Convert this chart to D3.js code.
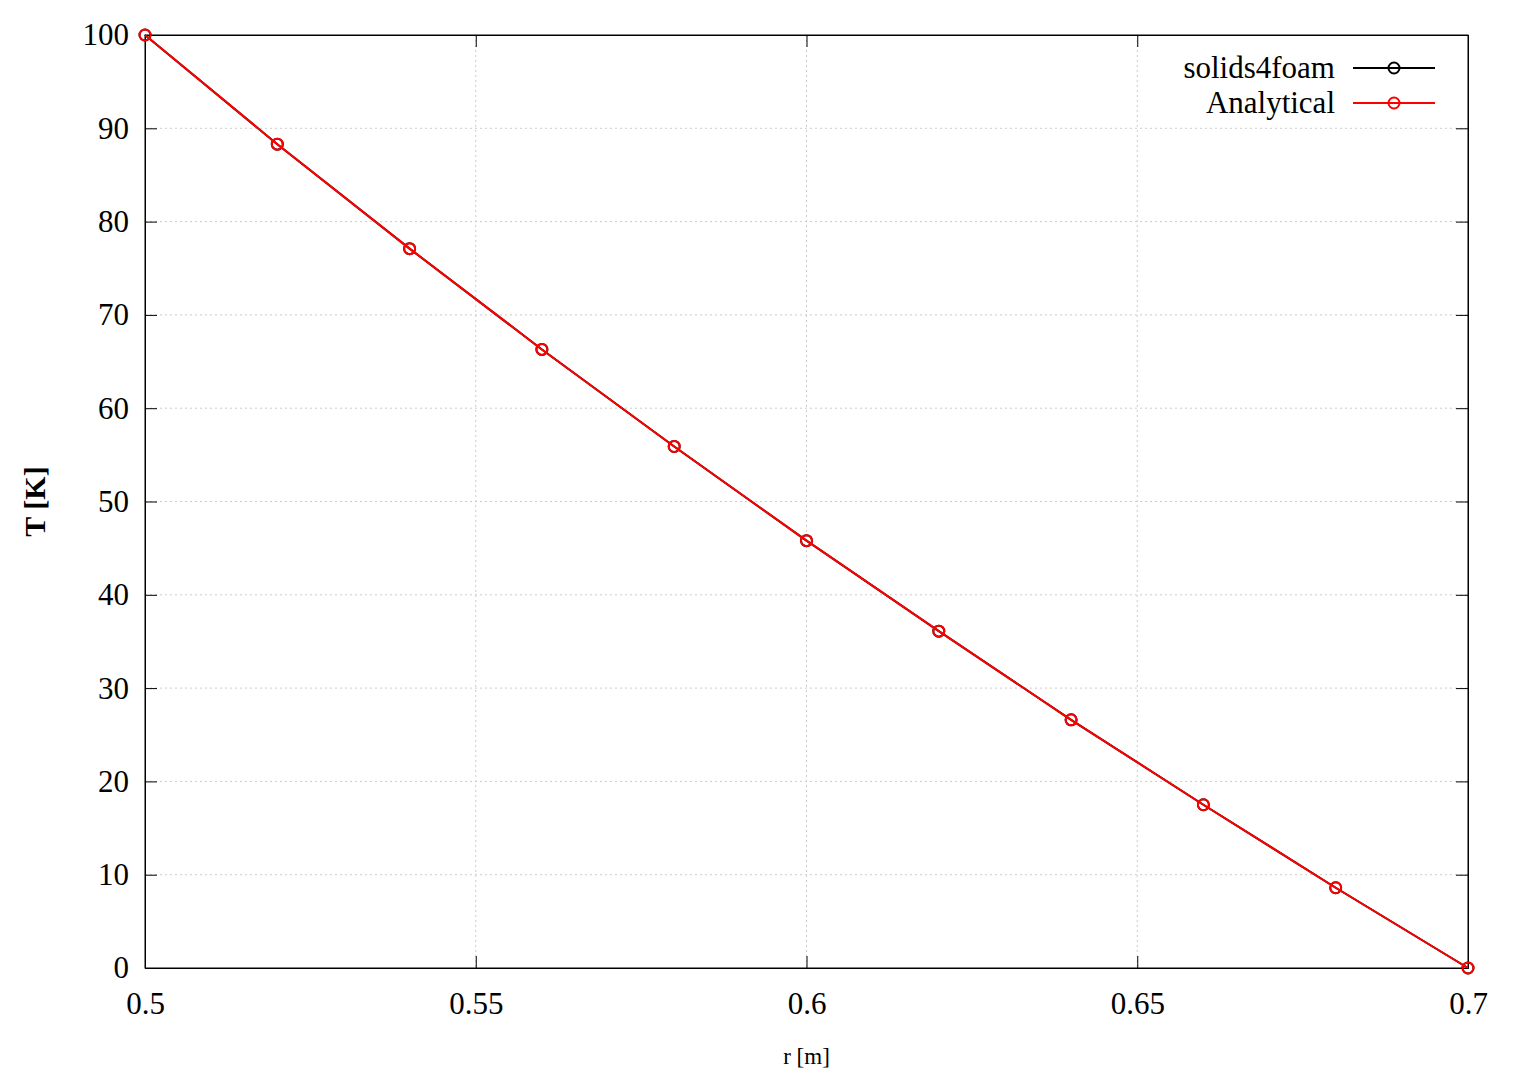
<!DOCTYPE html>
<html><head><meta charset="utf-8">
<script src="https://cdn.jsdelivr.net/npm/d3@7"></script>
<style>body{margin:0;background:#fff}svg{font-family:"Liberation Serif","DejaVu Serif",serif}</style>
</head><body><svg id="c" width="1520" height="1080"></svg>
<script>
const radius = [0.5, 0.52, 0.54, 0.56, 0.58, 0.6, 0.62, 0.64, 0.66, 0.68, 0.7]
const solids4foam = [100, 88.3, 77.1, 66.3, 55.9, 45.8, 36.1, 26.6, 17.5, 8.6, 0]
const analytical = [100, 88.3, 77.1, 66.3, 55.9, 45.8, 36.1, 26.6, 17.5, 8.6, 0]
const xTicks = [0.5, 0.55, 0.6, 0.65, 0.7]
const yTicks = [0, 10, 20, 30, 40, 50, 60, 70, 80, 90, 100]

const L = 145, R = 1468, T = 35, B = 968
const svg = d3.select('#c')
const x = d3.scaleLinear().domain([0.5, 0.7]).range([L, R])
const y = d3.scaleLinear().domain([0, 100]).range([B, T])

// grid
svg.append('g').selectAll('line').data(xTicks.slice(1, -1)).join('line')
  .attr('x1', d => x(d)).attr('x2', d => x(d)).attr('y1', T).attr('y2', B)
  .attr('stroke', '#ccc').attr('stroke-dasharray', '2,3')
svg.append('g').selectAll('line').data(yTicks.slice(1, -1)).join('line')
  .attr('y1', d => y(d)).attr('y2', d => y(d)).attr('x1', L).attr('x2', R)
  .attr('stroke', '#ccc').attr('stroke-dasharray', '2,3')

// axes, gnuplot style: inward ticks on all sides
const fmt = d => String(+d.toFixed(2))
svg.append('g').attr('transform', `translate(0,${B})`)
  .call(d3.axisBottom(x).tickValues(xTicks).tickSize(-12).tickPadding(24).tickFormat(fmt))
svg.append('g').attr('transform', `translate(0,${T})`)
  .call(d3.axisTop(x).tickValues(xTicks).tickSize(-12).tickFormat(''))
svg.append('g').attr('transform', `translate(${L},0)`)
  .call(d3.axisLeft(y).tickValues(yTicks).tickSize(-12).tickPadding(16))
svg.append('g').attr('transform', `translate(${R},0)`)
  .call(d3.axisRight(y).tickValues(yTicks).tickSize(-12).tickFormat(''))
svg.selectAll('.domain').attr('stroke', '#000')
svg.selectAll('.tick text').style('font-size', '31px').style('font-family', '"Liberation Serif",serif').attr('fill', '#000')
svg.append('rect').attr('x', L).attr('y', T).attr('width', R - L).attr('height', B - T)
  .attr('fill', 'none').attr('stroke', '#000')

// labels
svg.append('text').attr('x', (L + R) / 2).attr('y', 1064).attr('text-anchor', 'middle')
  .style('font-size', '23px').text('r [m]')
svg.append('text').attr('transform', `translate(45,${(T + B) / 2}) rotate(-90)`)
  .attr('text-anchor', 'middle').style('font-size', '30px').attr('font-weight', 'bold').text('T [K]')

// series
const series = [
  {name: 'solids4foam', vals: solids4foam, color: '#000'},
  {name: 'Analytical', vals: analytical, color: '#ff0000'}
]
const line = d3.line().x(d => x(d[0])).y(d => y(d[1]))
series.forEach((s, i) => {
  const pts = radius.map((r, k) => [r, s.vals[k]])
  svg.append('path').datum(pts).attr('d', line).attr('fill', 'none')
    .attr('stroke', s.color).attr('stroke-width', 2)
  svg.append('g').selectAll('circle').data(pts).join('circle')
    .attr('cx', d => x(d[0])).attr('cy', d => y(d[1])).attr('r', 5.5)
    .attr('fill', 'none').attr('stroke', s.color).attr('stroke-width', 2)
  const ly = 68 + i * 35
  svg.append('text').attr('x', 1335).attr('y', ly + 10).attr('text-anchor', 'end')
    .style('font-size', '31px').text(s.name)
  svg.append('line').attr('x1', 1353).attr('x2', 1435).attr('y1', ly).attr('y2', ly)
    .attr('stroke', s.color).attr('stroke-width', 2)
  svg.append('circle').attr('cx', 1394).attr('cy', ly).attr('r', 5.5)
    .attr('fill', 'none').attr('stroke', s.color).attr('stroke-width', 2)
})
</script></body></html>
